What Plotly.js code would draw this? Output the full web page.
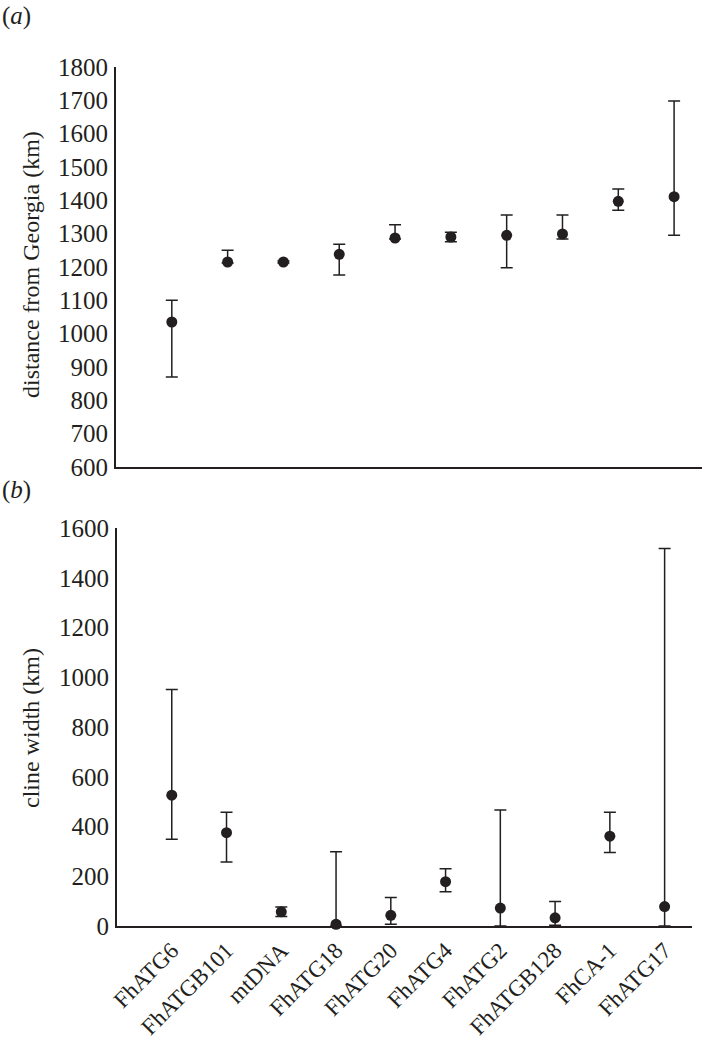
<!DOCTYPE html>
<html>
<head>
<meta charset="utf-8">
<script src="https://cdn.plot.ly/plotly-3.0.1.min.js"></script>
<style>html,body{margin:0;padding:0;background:#fff;}#chart{width:702px;height:1043px;}</style>
</head>
<body>
<div id="chart"></div>
<script>
var categories = ["FhATG6","FhATGB101","mtDNA","FhATG18","FhATG20","FhATG4","FhATG2","FhATGB128","FhCA-1","FhATG17"];

// (a) distance from Georgia (km)
var distValue = [1035, 1215, 1215, 1238, 1287, 1290, 1295, 1299, 1397, 1411];
var distUpper = [1100, 1250, 1218, 1268, 1327, 1304, 1356, 1356, 1434, 1698];
var distLower = [870, 1212, 1212, 1176, 1284, 1276, 1198, 1284, 1370, 1295];

// (b) cline width (km)
var widthValue = [526, 375, 57, 7, 43, 178, 72, 33, 361, 78];
var widthUpper = [951, 457, 76, 298, 115, 230, 466, 98, 457, 1518];
var widthLower = [349, 257, 38, 0, 7, 138, 0, 3, 295, 0];

var distTicks = [600,700,800,900,1000,1100,1200,1300,1400,1500,1600,1700,1800];
var widthTicks = [0,200,400,600,800,1000,1200,1400,1600];

function diff(a, b) { return a.map(function (v, i) { return v - b[i]; }); }

var ink = '#231f20';
var fontFam = 'Liberation Serif, DejaVu Serif, serif';

var traces = [
  {
    type: 'scatter', mode: 'markers', x: categories, y: distValue,
    xaxis: 'x', yaxis: 'y', cliponaxis: false,
    marker: {color: ink, size: 11},
    error_y: {type: 'data', symmetric: false,
      array: diff(distUpper, distValue), arrayminus: diff(distValue, distLower),
      color: ink, thickness: 1.5, width: 6},
    hoverinfo: 'x+y'
  },
  {
    type: 'scatter', mode: 'markers', x: categories, y: widthValue,
    xaxis: 'x2', yaxis: 'y2', cliponaxis: false,
    marker: {color: ink, size: 11},
    error_y: {type: 'data', symmetric: false,
      array: diff(widthUpper, widthValue), arrayminus: diff(widthValue, widthLower),
      color: ink, thickness: 1.5, width: 6},
    hoverinfo: 'x+y'
  }
];

var H = 1043, W = 702;
function py(p) { return 1 - p / H; }

var axisCommon = {
  showgrid: false, zeroline: false, showline: true, linewidth: 2, linecolor: ink,
  ticks: '', tickfont: {family: fontFam, size: 25, color: ink}
};

var layout = {
  width: W, height: H,
  margin: {l: 0, r: 0, t: 0, b: 0},
  paper_bgcolor: '#fff', plot_bgcolor: '#fff',
  showlegend: false,
  font: {family: fontFam, color: ink},
  xaxis: Object.assign({}, axisCommon, {
    domain: [116 / W, 1], anchor: 'y', type: 'category',
    categoryorder: 'array', categoryarray: categories,
    range: [-1, 9.5], showticklabels: false
  }),
  yaxis: Object.assign({}, axisCommon, {
    domain: [py(467), py(67)], anchor: 'x', range: [600, 1800],
    tickmode: 'array', tickvals: distTicks, ticktext: distTicks.map(String),
    ticklabelstandoff: 1
  }),
  xaxis2: Object.assign({}, axisCommon, {
    domain: [117 / W, 692 / W], anchor: 'y2', type: 'category',
    categoryorder: 'array', categoryarray: categories,
    range: [-1, 9.5], tickangle: -45, ticklabelstandoff: 0,
    tickfont: {family: fontFam, size: 23, color: ink}
  }),
  yaxis2: Object.assign({}, axisCommon, {
    domain: [py(926), py(528)], anchor: 'x2', range: [0, 1600],
    tickmode: 'array', tickvals: widthTicks, ticktext: widthTicks.map(String),
    ticklabelstandoff: 1
  }),
  annotations: [
    {text: '(<i>a</i>)', xref: 'paper', yref: 'paper', x: 0, y: py(16), xanchor: 'left', yanchor: 'middle',
     showarrow: false, font: {family: fontFam, size: 25, color: ink}},
    {text: '(<i>b</i>)', xref: 'paper', yref: 'paper', x: 0, y: py(490), xanchor: 'left', yanchor: 'middle',
     showarrow: false, font: {family: fontFam, size: 25, color: ink}},
    {text: 'distance from Georgia (km)', xref: 'paper', yref: 'paper', x: 31 / W, y: py(265),
     xanchor: 'center', yanchor: 'middle', textangle: -90, showarrow: false,
     font: {family: fontFam, size: 24, color: ink}},
    {text: 'cline width (km)', xref: 'paper', yref: 'paper', x: 31 / W, y: py(728),
     xanchor: 'center', yanchor: 'middle', textangle: -90, showarrow: false,
     font: {family: fontFam, size: 24, color: ink}}
  ]
};

Plotly.newPlot('chart', traces, layout, {displayModeBar: false, staticPlot: true});
</script>
</body>
</html>
